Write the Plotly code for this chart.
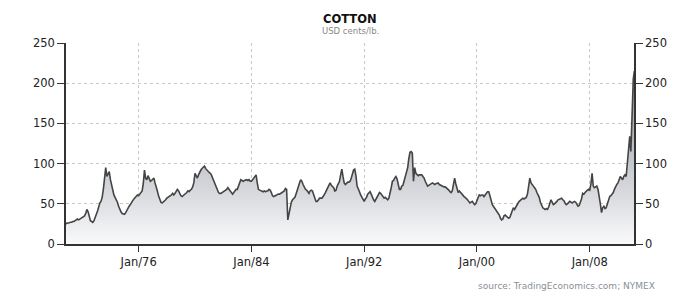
import pandas as pd
import plotly.graph_objects as go

# Monthly cotton price, USD cents/lb, Oct 1970 .. Mar 2011
price_1970 = [25, 25, 26]  # Oct-Dec
price_1971 = [26, 26.5, 27, 27, 28, 28, 29, 30, 31, 30, 31, 32]
price_1972 = [32, 33, 35, 38, 43, 40, 33, 29, 28, 27, 29, 32]
price_1973 = [37, 41, 46, 51, 53, 58, 68, 82, 95, 84, 88, 90]
price_1974 = [80, 72, 66, 61, 58, 55, 52, 47, 43, 40, 38, 37]
price_1975 = [37, 39, 42, 45, 47, 49, 52, 54, 56, 58, 60, 61]
price_1976 = [60, 62, 63, 66, 75, 92, 82, 80, 85, 80, 78, 79]
price_1977 = [80, 82, 76, 72, 66, 60, 55, 52, 51, 52, 53, 55]
price_1978 = [57, 58, 59, 60, 61, 63, 61, 63, 66, 68, 66, 62]
price_1979 = [60, 59, 60, 62, 63, 64, 66, 65, 67, 68, 71, 76]
price_1980 = [88, 85, 82, 86, 90, 92, 94, 96, 97, 94, 92, 90]
price_1981 = [89, 88, 86, 82, 78, 76, 72, 66, 64, 63, 63, 64]
price_1982 = [65, 66, 67, 68, 70, 68, 66, 63, 62, 64, 67, 68]
price_1983 = [68, 72, 76, 80, 79, 78, 79, 80, 80, 79, 80, 78]
price_1984 = [78, 80, 82, 84, 86, 76, 68, 67, 66, 65, 65, 66]
price_1985 = [65, 66, 66, 68, 67, 64, 60, 59, 60, 61, 62, 62]
price_1986 = [62, 63, 64, 65, 66, 69, 68, 30, 38, 47, 52, 55]
price_1987 = [57, 58, 62, 68, 72, 76, 80, 78, 74, 70, 68, 67]
price_1988 = [65, 63, 66, 67, 66, 62, 58, 53, 53, 55, 57, 57]
price_1989 = [57, 59, 61, 64, 67, 70, 74, 76, 73, 71, 70, 66]
price_1990 = [67, 72, 76, 78, 86, 93, 84, 76, 74, 76, 77, 77]
price_1991 = [78, 82, 86, 92, 93, 85, 72, 67, 65, 61, 58, 55]
price_1992 = [53, 56, 58, 62, 64, 65, 62, 58, 55, 53, 56, 59]
price_1993 = [62, 64, 63, 61, 60, 57, 58, 56, 55, 57, 62, 70]
price_1994 = [78, 79, 82, 84, 81, 74, 68, 68, 72, 73, 78, 85]
price_1995 = [88, 95, 106, 114, 115, 113, 78, 95, 88, 86, 85, 86]
price_1996 = [86, 86, 84, 82, 78, 74, 72, 73, 74, 75, 76, 75]
price_1997 = [74, 75, 76, 76, 74, 73, 72, 72, 71, 71, 70, 68]
price_1998 = [67, 65, 64, 66, 72, 82, 75, 70, 64, 66, 64, 62]
price_1999 = [60, 59, 58, 57, 55, 53, 51, 52, 53, 51, 49, 50]
price_2000 = [55, 58, 61, 60, 61, 61, 59, 62, 63, 65, 65, 60]
price_2001 = [53, 49, 47, 45, 42, 40, 39, 36, 32, 30, 31, 35]
price_2002 = [36, 35, 34, 32, 33, 37, 42, 45, 43, 46, 49, 51]
price_2003 = [53, 54, 56, 57, 56, 57, 58, 62, 72, 82, 76, 73]
price_2004 = [72, 70, 68, 64, 61, 58, 52, 47, 45, 44, 43, 44]
price_2005 = [43, 46, 50, 55, 52, 49, 50, 51, 53, 55, 56, 57]
price_2006 = [57, 55, 54, 51, 49, 50, 51, 53, 52, 51, 52, 53]
price_2007 = [52, 50, 47, 48, 51, 56, 63, 62, 64, 66, 67, 68]
price_2008 = [67, 75, 88, 72, 70, 71, 72, 68, 61, 50, 39, 45]
price_2009 = [47, 44, 45, 50, 55, 59, 60, 62, 64, 68, 72, 74]
price_2010 = [76, 80, 84, 82, 80, 84, 86, 84, 98, 118, 134, 115]
price_2011 = [165, 205, 215]  # Jan-Mar

prices = (price_1970 + price_1971 + price_1972 + price_1973 + price_1974 + price_1975
          + price_1976 + price_1977 + price_1978 + price_1979 + price_1980 + price_1981
          + price_1982 + price_1983 + price_1984 + price_1985 + price_1986 + price_1987
          + price_1988 + price_1989 + price_1990 + price_1991 + price_1992 + price_1993
          + price_1994 + price_1995 + price_1996 + price_1997 + price_1998 + price_1999
          + price_2000 + price_2001 + price_2002 + price_2003 + price_2004 + price_2005
          + price_2006 + price_2007 + price_2008 + price_2009 + price_2010 + price_2011)
dates = pd.date_range("1970-10-01", periods=len(prices), freq="MS")

x_tick_vals = ["1976-01-01", "1984-01-01", "1992-01-01", "2000-01-01", "2008-01-01"]
x_tick_text = ["Jan/76", "Jan/84", "Jan/92", "Jan/00", "Jan/08"]
y_tick_vals = [0, 50, 100, 150, 200, 250]

title_text = "COTTON"
subtitle_text = "USD cents/lb."
source_text = "source: TradingEconomics.com; NYMEX"

FONT = "DejaVu Sans"
AXIS_COL = "#333333"
GRID_COL = "#c8c8c8"
GRID_DASH = "3px,3px"

fig = go.Figure()
fig.add_trace(go.Scatter(
    x=dates, y=prices, mode="lines",
    line=dict(color="#444444", width=1.6),
    fill="tozeroy",
    fillgradient=dict(type="vertical", start=0, stop=215,
                      colorscale=[[0, "#fafafb"], [0.25, "#dcdee2"], [1, "#8e9298"]]),
    hoverinfo="skip", showlegend=False,
))
# invisible trace to carry the right-hand axis
fig.add_trace(go.Scatter(
    x=dates[:1], y=prices[:1], yaxis="y2", mode="markers",
    marker=dict(opacity=0), hoverinfo="skip", showlegend=False,
))

fig.update_layout(
    width=700, height=300,
    margin=dict(l=66, r=66, t=43, b=56),
    paper_bgcolor="white", plot_bgcolor="white",
    font=dict(family=FONT, size=11, color="#222222"),
    xaxis=dict(
        type="date", range=["1970-11-07", "2011-02-20"],
        tickvals=x_tick_vals, ticktext=x_tick_text,
        showgrid=True, gridcolor=GRID_COL, griddash=GRID_DASH, gridwidth=1,
        showline=True, linecolor=AXIS_COL, linewidth=1.5,
        ticks="outside", ticklen=6, tickcolor=AXIS_COL, tickwidth=1.2,
        zeroline=False, tickfont=dict(size=11.5),
    ),
    yaxis=dict(
        range=[0, 250], tickvals=y_tick_vals,
        showgrid=True, gridcolor=GRID_COL, griddash=GRID_DASH, gridwidth=1,
        showline=True, linecolor=AXIS_COL, linewidth=1.5,
        ticks="outside", ticklen=7, tickcolor=AXIS_COL, tickwidth=1.2,
        zeroline=False, tickfont=dict(size=11.5),
    ),
    yaxis2=dict(
        range=[0, 250], tickvals=y_tick_vals, overlaying="y", side="right",
        showgrid=False, showline=True, linecolor=AXIS_COL, linewidth=1.5,
        ticks="outside", ticklen=7, tickcolor=AXIS_COL, tickwidth=1.2,
        zeroline=False, tickfont=dict(size=11.5),
    ),
    annotations=[
        dict(text="<b>" + title_text + "</b>", xref="paper", yref="paper",
             x=0.5, y=1.12, xanchor="center", yanchor="middle", showarrow=False,
             font=dict(size=11.5, color="#111111", family=FONT)),
        dict(text=subtitle_text, xref="paper", yref="paper",
             x=0.5, y=1.062, xanchor="center", yanchor="middle", showarrow=False,
             font=dict(size=8.5, color="#888888", family=FONT)),
        dict(text=source_text, xref="paper", yref="paper",
             x=1.0405, y=-0.207, xanchor="right", yanchor="middle", showarrow=False,
             font=dict(size=9, color="#8a8f96", family=FONT)),
    ],
)

fig.write_html("out.html")
